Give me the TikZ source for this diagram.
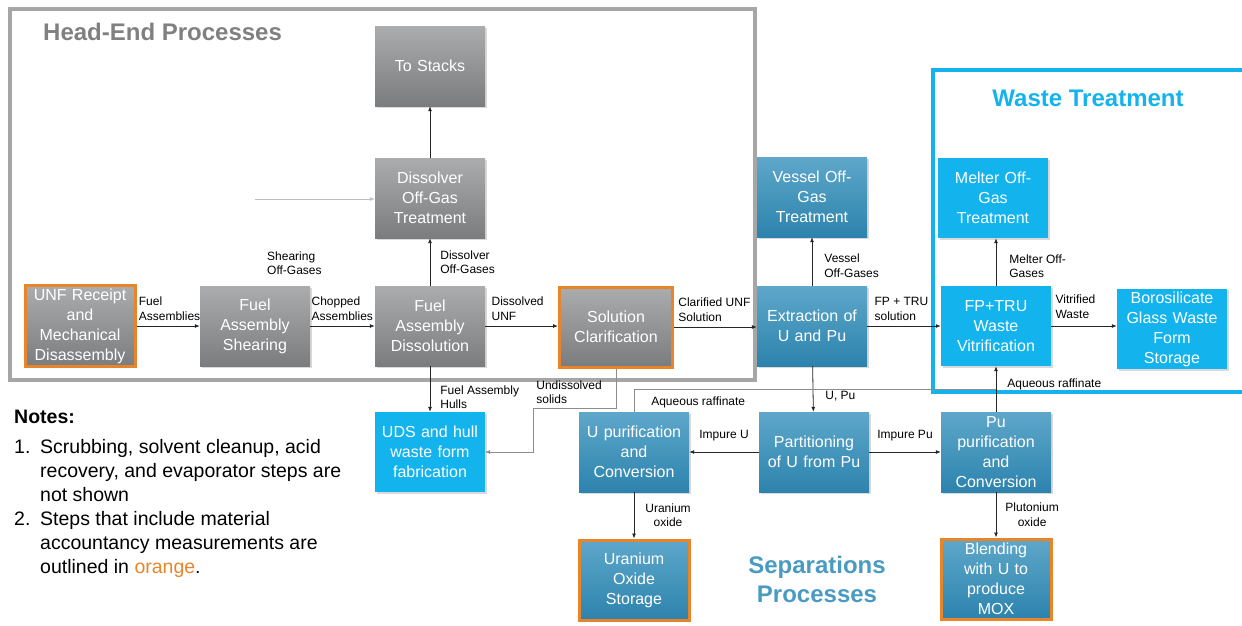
\documentclass[tikz,border=0pt]{standalone}
\usepackage{fontspec}
\setmainfont{Liberation Sans}
\usetikzlibrary{arrows.meta, shadows}
\definecolor{hegraytop}{HTML}{AAACAE}
\definecolor{hegraybot}{HTML}{7A7C7E}
\definecolor{sepbluetop}{HTML}{5EA7CA}
\definecolor{sepbluebot}{HTML}{2C83AD}
\definecolor{wasteblue}{HTML}{13B3EE}
\definecolor{mcorange}{HTML}{E8852B}
\definecolor{framegray}{HTML}{A6A6A6}
\definecolor{titlegray}{HTML}{808080}
\definecolor{septitle}{HTML}{4A9BC1}

\begin{document}
\begin{tikzpicture}[x = 1pt, y = -1pt,
    proc/.style = {inner sep = 3pt, minimum width = 110pt, minimum height = 80pt, text width = 104pt, align = center, text = white, font = \fontsize{16}{20}\selectfont, drop shadow = {opacity = 0.3, shadow xshift = 1.5pt, shadow yshift = -1.5pt}},
    headbox/.style = {proc, top color = hegraytop, bottom color = hegraybot},
    sepbox/.style = {proc, top color = sepbluetop, bottom color = sepbluebot},
    wastebox/.style = {proc, fill = wasteblue},
    measured/.style = {draw = mcorange, line width = 3pt},
    flow/.style = {-{Latex[length = 5pt, width = 4pt]}, line width = 0.8pt, black!85},
    thinflow/.style = {flow, line width = 0.6pt, black!45},
    lbl/.style = {inner sep = 0pt, align = left, text = black, font = \fontsize{12}{14.5}\selectfont}
  ]
	\useasboundingbox (0, 0) rectangle (1242, 625);
	\draw[framegray, line width = 3.5pt] (10, 9) rectangle (755, 380);
	\draw[wasteblue, line width = 3.5pt] (933, 70) rectangle (1250, 392);
	\node[anchor = base west, inner sep = 0pt, text = titlegray, font = \fontsize{24}{29}\selectfont\bfseries] (hetitle) at (43, 40) {Head-End Processes};
	\node[anchor = base, inner sep = 0pt, text = wasteblue, font = \fontsize{24}{29}\selectfont\bfseries] (wttitle) at (1088, 106) {Waste Treatment};
	\node[anchor = north, inner sep = 0pt, align = center, text = septitle, font = \fontsize{24}{29}\selectfont\bfseries] (septitle) at (817, 556) {Separations\\Processes};

	\node[headbox] (stacks) at (430, 66) {To Stacks};
	\node[headbox] (dogt) at (430, 198) {Dissolver\\Off-Gas\\Treatment};
	\node[headbox, measured, minimum width = 107pt] (receipt) at (80, 326) {UNF Receipt\\and\\Mechanical\\Disassembly};
	\node[headbox] (shear) at (255, 326) {Fuel\\Assembly\\Shearing};
	\node[headbox] (dissol) at (430, 326) {Fuel\\Assembly\\Dissolution};
	\node[headbox, measured, minimum width = 113pt] (clarif) at (616, 327) {Solution\\Clarification};
	\node[sepbox] (vogt) at (812, 197) {Vessel Off-\\Gas\\Treatment};
	\node[sepbox] (extr) at (812, 326) {Extraction of\\U and Pu};
	\node[wastebox] (mogt) at (993, 198) {Melter Off-\\Gas\\Treatment};
	\node[wastebox] (vitr) at (996, 326) {FP+TRU\\Waste\\Vitrification};
	\node[wastebox] (boro) at (1172, 329) {Borosilicate\\Glass Waste\\Form\\Storage};
	\node[wastebox] (uds) at (430, 452) {UDS and hull\\waste form\\fabrication};
	\node[sepbox] (upur) at (634, 452) {U purification\\and\\Conversion};
	\node[sepbox] (part) at (814, 452) {Partitioning\\of U from Pu};
	\node[sepbox] (pupur) at (996, 452) {Pu\\purification\\and\\Conversion};
	\node[sepbox, measured, minimum width = 108pt] (uoxs) at (634, 580) {Uranium\\Oxide\\Storage};
	\node[sepbox, measured, minimum width = 110pt] (mox) at (996, 579) {Blending\\with U to\\produce\\MOX};

	\draw[flow] (receipt) -- (shear) node[lbl, pos = 0, anchor = south west, xshift = 2pt, yshift = 5pt] {Fuel\\Assemblies};
	\draw[flow] (shear) -- (dissol) node[lbl, pos = 0, anchor = south west, xshift = 1pt, yshift = 5pt] {Chopped\\Assemblies};
	\draw[flow] (dissol) -- (dissol -| clarif.west) node[lbl, pos = 0, anchor = south west, xshift = 6pt, yshift = 5pt] {Dissolved\\UNF};
	\draw[flow] (clarif.east) -- (clarif.east -| extr.west) node[lbl, pos = 0, anchor = south west, xshift = 4pt, yshift = 5pt] {Clarified UNF\\Solution};
	\draw[flow] (extr) -- (vitr) node[lbl, pos = 0, anchor = south west, xshift = 7pt, yshift = 5pt] {FP + TRU\\solution};
	\draw[flow] (vitr.east) -- (vitr.east -| boro.west) node[lbl, pos = 0, anchor = south west, xshift = 4pt, yshift = 7pt] {Vitrified\\Waste};

	\draw[flow] (dissol) -- node[lbl, anchor = west, xshift = 10pt] {Dissolver\\Off-Gases} (dogt);
	\draw[flow] (dogt) -- (stacks);
	\coordinate (shearvent) at (255, 199);
	\draw[thinflow, black!25] (shearvent) -- (shearvent -| dogt.west);
	\node[lbl, anchor = west] (shearlbl) at (267, 263) {Shearing\\Off-Gases};
	\draw[flow] (extr) -- node[lbl, anchor = west, xshift = 12pt, yshift = -4pt] {Vessel\\Off-Gases} (vogt);
	\draw[flow] (vitr.north) -- node[lbl, anchor = west, xshift = 13pt, yshift = -4pt] {Melter Off-\\Gases} (vitr.north |- mogt.south);

	\draw[flow] (dissol) -- node[lbl, anchor = west, xshift = 10pt, yshift = -8pt] {Fuel Assembly\\Hulls} (uds);
	\draw[thinflow] (clarif.south) |- node[lbl, pos = 0.3, anchor = east, xshift = -14pt] {Undissolved\\solids} (533, 408) |- (uds.east);
	\draw[flow] (extr) -- node[lbl, anchor = west, xshift = 12pt, yshift = -7pt] {U, Pu} (part);
	\draw[flow] (part) -- node[lbl, above = 11pt] {Impure U} (upur);
	\draw[flow] (part) -- node[lbl, above = 11pt] {Impure Pu} (pupur);
	\draw[flow] (upur) -- node[lbl, align = center, anchor = west, xshift = 11pt] {Uranium\\oxide} (uoxs);
	\draw[flow] (pupur) -- node[lbl, align = center, anchor = west, xshift = 9pt] {Plutonium\\oxide} (mox);
	\draw[flow] (pupur) -- node[lbl, pos = 0.61, anchor = west, xshift = 11pt] {Aqueous raffinate} (vitr);
	\coordinate (raffjoin) at (996, 389);
	\draw[thinflow, -] (upur.north) |- node[lbl, pos = 0.5, anchor = west, xshift = 17pt, yshift = -13pt] {Aqueous raffinate} (raffjoin);

	\node[anchor = north west, inner sep = 0pt, align = left, font = \fontsize{19.5}{24}\selectfont] (notes) at (14, 410) {\textbf{Notes:}\\[6pt]
		\makebox[26pt][l]{1.}Scrubbing, solvent cleanup, acid\\
		\hspace*{26pt}recovery, and evaporator steps are\\
		\hspace*{26pt}not shown\\
		\makebox[26pt][l]{2.}Steps that include material\\
		\hspace*{26pt}accountancy measurements are\\
		\hspace*{26pt}outlined in \textcolor{mcorange}{orange}.};
\end{tikzpicture}
\end{document}
